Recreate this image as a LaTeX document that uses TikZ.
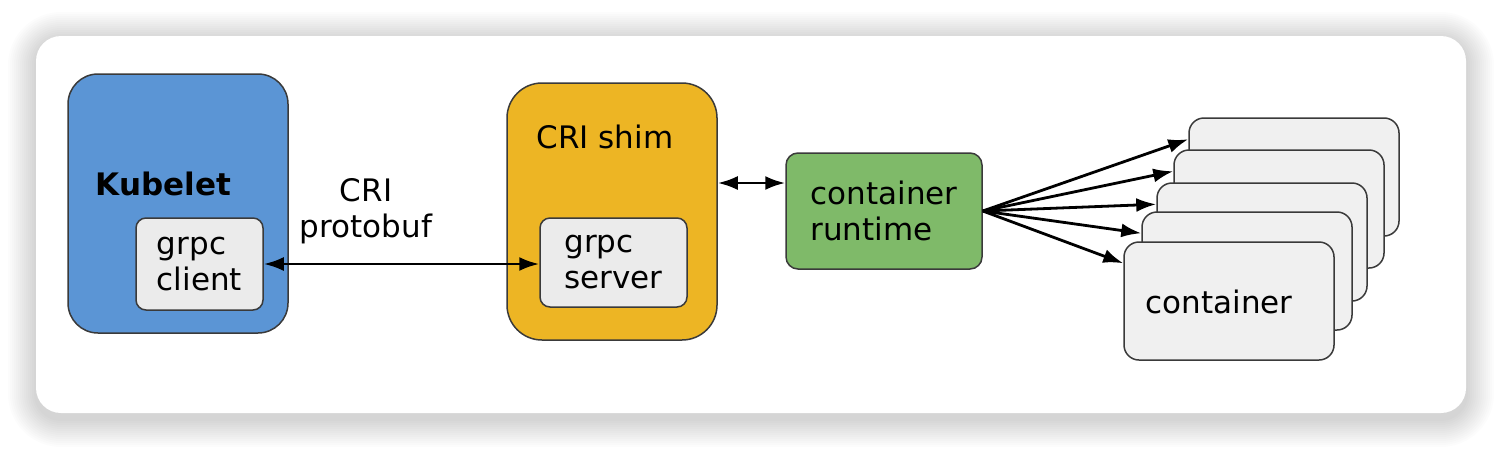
\documentclass[tikz,border=0pt]{standalone}
\usepackage{fontspec}
\setmainfont{DejaVu Sans}
\usetikzlibrary{arrows.meta,calc}
\definecolor{kblue}{HTML}{5B95D5}
\definecolor{shimy}{HTML}{EDB524}
\definecolor{rtgreen}{HTML}{7FBA69}
\definecolor{inner}{HTML}{EBEBEB}
\definecolor{ctr}{HTML}{F0F0F0}
\definecolor{edge}{HTML}{3A3A3A}
\tikzset{
  box/.style={draw=edge, line width=0.75pt, inner sep=0pt, align=left,
    font=\fontsize{15.5}{18}\selectfont},
  bigbox/.style={box, rounded corners=15pt},
  smallbox/.style={box, fill=inner, rounded corners=5pt},
  ctrbox/.style={box, fill=ctr, rounded corners=7.5pt, minimum width=105pt, minimum height=59pt},
  lbl/.style={font=\fontsize{15.5}{18}\selectfont, inner sep=0pt, align=center},
  conn/.style={line width=1.4pt, draw=black},
  tip/.style={-{Latex[length=10pt,width=7pt]}},
  tips/.style={{Latex[length=10pt,width=7pt]}-{Latex[length=10pt,width=7pt]}}
}
\begin{document}
\begin{tikzpicture}[x=0.5pt,y=-0.5pt]
\useasboundingbox (0,0) rectangle (1502,450);
% soft shadow
\foreach \i in {1,...,14}{
  \fill[black, opacity=0.010, rounded corners=12.5pt+\i pt]
    ($(36,40)+(-2*\i,-2*\i)$) rectangle ($(1466,419)+(2*\i,2*\i)$);
}
\fill[white, rounded corners=12.5pt] (36,36) rectangle (1466,413);

% Kubelet
\node[bigbox, fill=kblue, minimum width=110pt, minimum height=129.5pt] (kubelet) at (178,203.5) {};
\node[lbl, font=\fontsize{15.5}{18}\selectfont\bfseries] (kubeletlbl) at (163.5,184) {Kubelet};
\node[smallbox, minimum width=63.5pt, minimum height=46pt] (client) at (199.5,264) {grpc\\client};

% CRI shim
\node[box, fill=shimy, rounded corners=17.5pt, minimum width=105pt, minimum height=128.5pt] (shim) at (612,211.5) {};
\node[lbl] (shimlbl) at (605,137) {CRI shim};
\node[smallbox, minimum width=73.5pt, minimum height=44.5pt] (server) at (613.5,262.5) {grpc\\server};

% label
\node[lbl] (proto) at (366,211) {CRI\\protobuf};

% runtime
\node[box, fill=rtgreen, rounded corners=6pt, minimum width=98pt, minimum height=58pt] (runtime) at (884,211) {container\\runtime};

% containers
\node[ctrbox] (c1) at (1294,177) {};
\node[ctrbox] (c2) at (1279,209) {};
\node[ctrbox] (c3) at (1262,242) {};
\node[ctrbox] (c4) at (1247,271) {};
\node[ctrbox] (c5) at (1229,301) {};
\node[lbl] (ctrlbl) at (1219,302) {container};

% connectors
\draw[conn, tips] (client.east) -- (client.east -| server.west);
\path (shim.east) ++(0,-28.5) coordinate (s1);
\draw[conn, tips] (s1) -- (s1 -| runtime.west);
\foreach \c in {c1,c2,c3,c4,c5}{
  \draw[conn, tip] (runtime.east) -- ($(\c.north west)+(0,22)$);
}
\end{tikzpicture}
\end{document}
